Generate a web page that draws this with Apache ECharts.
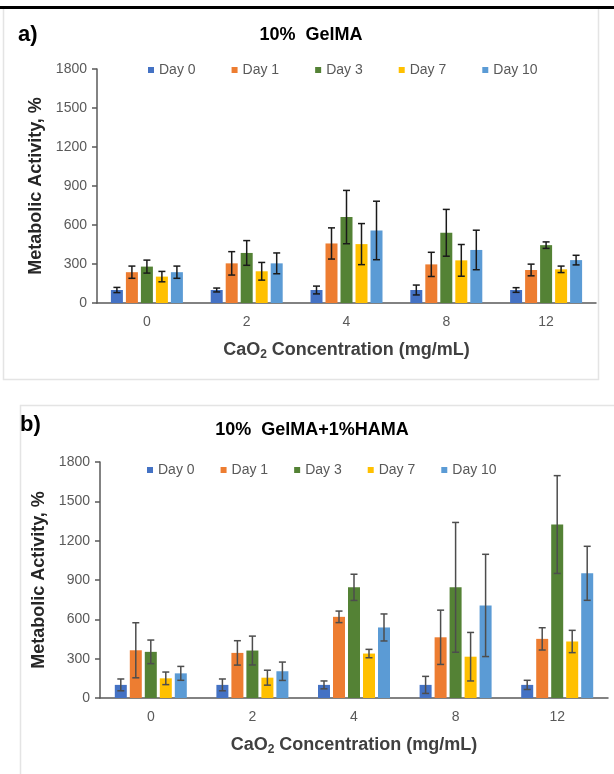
<!DOCTYPE html>
<html>
<head>
<meta charset="utf-8">
<script src="https://cdn.jsdelivr.net/npm/echarts@6/dist/echarts.min.js"></script>
<style>
  html, body { margin: 0; padding: 0; background: #fff; }
  #chart { width: 614px; height: 774px; }
</style>
</head>
<body>
<div id="chart"></div>
<script>
// categories (CaO2, mg/mL) and days
const concentrations = ['0', '2', '4', '8', '12'];
const days = ['Day 0', 'Day 1', 'Day 3', 'Day 7', 'Day 10'];
const yTicks = [0, 300, 600, 900, 1200, 1500, 1800];

// a) 10% GelMA  - one row per day, one value per concentration
const gelmaMeans = [
  [100, 100, 100, 100, 100],
  [237, 305, 458, 297, 254],
  [280, 385, 661, 540, 445],
  [203, 244, 453, 328, 259],
  [237, 305, 558, 408, 330]
];
const gelmaErrors = [
  [20, 15, 30, 38, 18],
  [47, 90, 120, 93, 45],
  [50, 95, 205, 180, 25],
  [40, 68, 158, 122, 25],
  [47, 80, 225, 152, 37]
];

// b) 10% GelMA+1%HAMA
const hamaMeans = [
  [100, 100, 100, 100, 100],
  [364, 344, 619, 463, 451],
  [352, 362, 844, 844, 1323],
  [150, 155, 339, 315, 431],
  [188, 204, 538, 706, 951]
];
const hamaErrors = [
  [45, 45, 30, 65, 35],
  [210, 93, 44, 207, 85],
  [90, 110, 100, 495, 373],
  [48, 57, 32, 185, 85],
  [53, 70, 103, 390, 206]
];

const colors = ['#4472C4', '#ED7D31', '#548235', '#FFC000', '#5B9BD5'];
const FONT = '"Liberation Sans", Arial, sans-serif';
const BAR_W = 12, BAR_STEP = 15;

function errorBars(offset, color) {
  return function (params, api) {
    const i = api.value(0);
    const lo = api.coord([i, api.value(1)]);
    const hi = api.coord([i, api.value(2)]);
    const x = lo[0] + offset;
    const st = { stroke: color, lineWidth: 1.5 };
    return {
      type: 'group',
      children: [
        { type: 'line', shape: { x1: x, y1: lo[1], x2: x, y2: hi[1] }, style: st },
        { type: 'line', shape: { x1: x - 3.5, y1: hi[1], x2: x + 3.5, y2: hi[1] }, style: st },
        { type: 'line', shape: { x1: x - 3.5, y1: lo[1], x2: x + 3.5, y2: lo[1] }, style: st }
      ]
    };
  };
}

function makeSeries(means, errors, axisIdx, errColor) {
  let out = [];
  means.forEach((row, d) => {
    out.push({
      name: days[d],
      type: 'bar',
      xAxisIndex: axisIdx,
      yAxisIndex: axisIdx,
      barWidth: BAR_W,
      barGap: '25%',
      itemStyle: { color: colors[d] },
      data: row
    });
  });
  means.forEach((row, d) => {
    out.push({
      name: 'err' + axisIdx + '_' + d,
      type: 'custom',
      xAxisIndex: axisIdx,
      yAxisIndex: axisIdx,
      z: 5,
      renderItem: errorBars((d - 2) * BAR_STEP, errColor),
      data: row.map((v, i) => [i, v - errors[d][i], v + errors[d][i]])
    });
  });
  return out;
}

function xAxisOpt(idx) {
  return {
    type: 'category',
    gridIndex: idx,
    data: concentrations,
    axisLine: { lineStyle: { color: '#5a5a5a', width: 1.5 } },
    axisTick: { show: false },
    axisLabel: { fontSize: 14, color: '#595959', fontFamily: FONT, margin: 12 },
    name: 'CaO{s|2} Concentration (mg/mL)',
    nameLocation: 'middle',
    nameGap: 36,
    nameTextStyle: {
      fontSize: 18, fontWeight: 'bold', color: '#404040', fontFamily: FONT,
      rich: { s: { fontSize: 12, fontWeight: 'bold', color: '#404040', fontFamily: FONT, padding: [10, 0, 0, 0] } }
    }
  };
}

function yAxisOpt(idx) {
  return {
    type: 'value',
    gridIndex: idx,
    min: yTicks[0],
    max: yTicks[yTicks.length - 1],
    interval: yTicks[1] - yTicks[0],
    splitLine: { show: false },
    axisLine: { show: true, lineStyle: { color: '#5a5a5a', width: 1.5 } },
    axisTick: { show: true, length: 5, lineStyle: { color: '#5a5a5a', width: 1.5 } },
    axisLabel: { fontSize: 14, color: '#595959', fontFamily: FONT, margin: 10, formatter: v => String(v) },
    name: 'Metabolic Activity, %',
    nameLocation: 'middle',
    nameRotate: 90,
    nameGap: 50,
    nameTextStyle: { fontSize: 18, fontWeight: 'bold', color: '#262626', fontFamily: FONT }
  };
}

const legendBase = {
  data: days,
  icon: 'rect',
  itemWidth: 6,
  itemHeight: 6,
  textStyle: { fontSize: 14, color: '#595959', fontFamily: FONT }
};

const chart = echarts.init(document.getElementById('chart'));
chart.setOption({
  animation: false,
  backgroundColor: '#fff',
  legend: [
    Object.assign({ left: 143, top: 58, itemGap: 36 }, legendBase),
    Object.assign({ left: 142, top: 458, itemGap: 26 }, legendBase)
  ],
  grid: [
    { left: 97, right: 18, top: 69, height: 234 },
    { left: 100, right: 6, top: 462, height: 236 }
  ],
  xAxis: [xAxisOpt(0), xAxisOpt(1)],
  yAxis: [yAxisOpt(0), yAxisOpt(1)],
  series: makeSeries(gelmaMeans, gelmaErrors, 0, '#1a1a1a')
    .concat(makeSeries(hamaMeans, hamaErrors, 1, '#4d4d4d')),
  graphic: [
    { type: 'rect', shape: { x: 0, y: 6, width: 614, height: 3 }, style: { fill: '#000' } },
    { type: 'polyline', shape: { points: [[3.5, 9], [3.5, 379.5], [598.5, 379.5], [598.5, 9]] },
      style: { stroke: '#e4e4e4', lineWidth: 1.5, fill: null } },
    { type: 'polyline', shape: { points: [[614, 405.5], [20.5, 405.5], [20.5, 774]] },
      style: { stroke: '#e4e4e4', lineWidth: 1.5, fill: null } },
    { type: 'text', style: { text: 'a)', x: 18, y: 35, textVerticalAlign: 'middle', font: 'bold 22px ' + FONT, fill: '#000' } },
    { type: 'text', style: { text: '10%  GelMA', x: 311, y: 35, textAlign: 'center', textVerticalAlign: 'middle', font: 'bold 18px ' + FONT, fill: '#000' } },
    { type: 'text', style: { text: 'b)', x: 20, y: 425, textVerticalAlign: 'middle', font: 'bold 22px ' + FONT, fill: '#000' } },
    { type: 'text', style: { text: '10%  GelMA+1%HAMA', x: 312, y: 430, textAlign: 'center', textVerticalAlign: 'middle', font: 'bold 18px ' + FONT, fill: '#000' } }
  ]
});
</script>
</body>
</html>
